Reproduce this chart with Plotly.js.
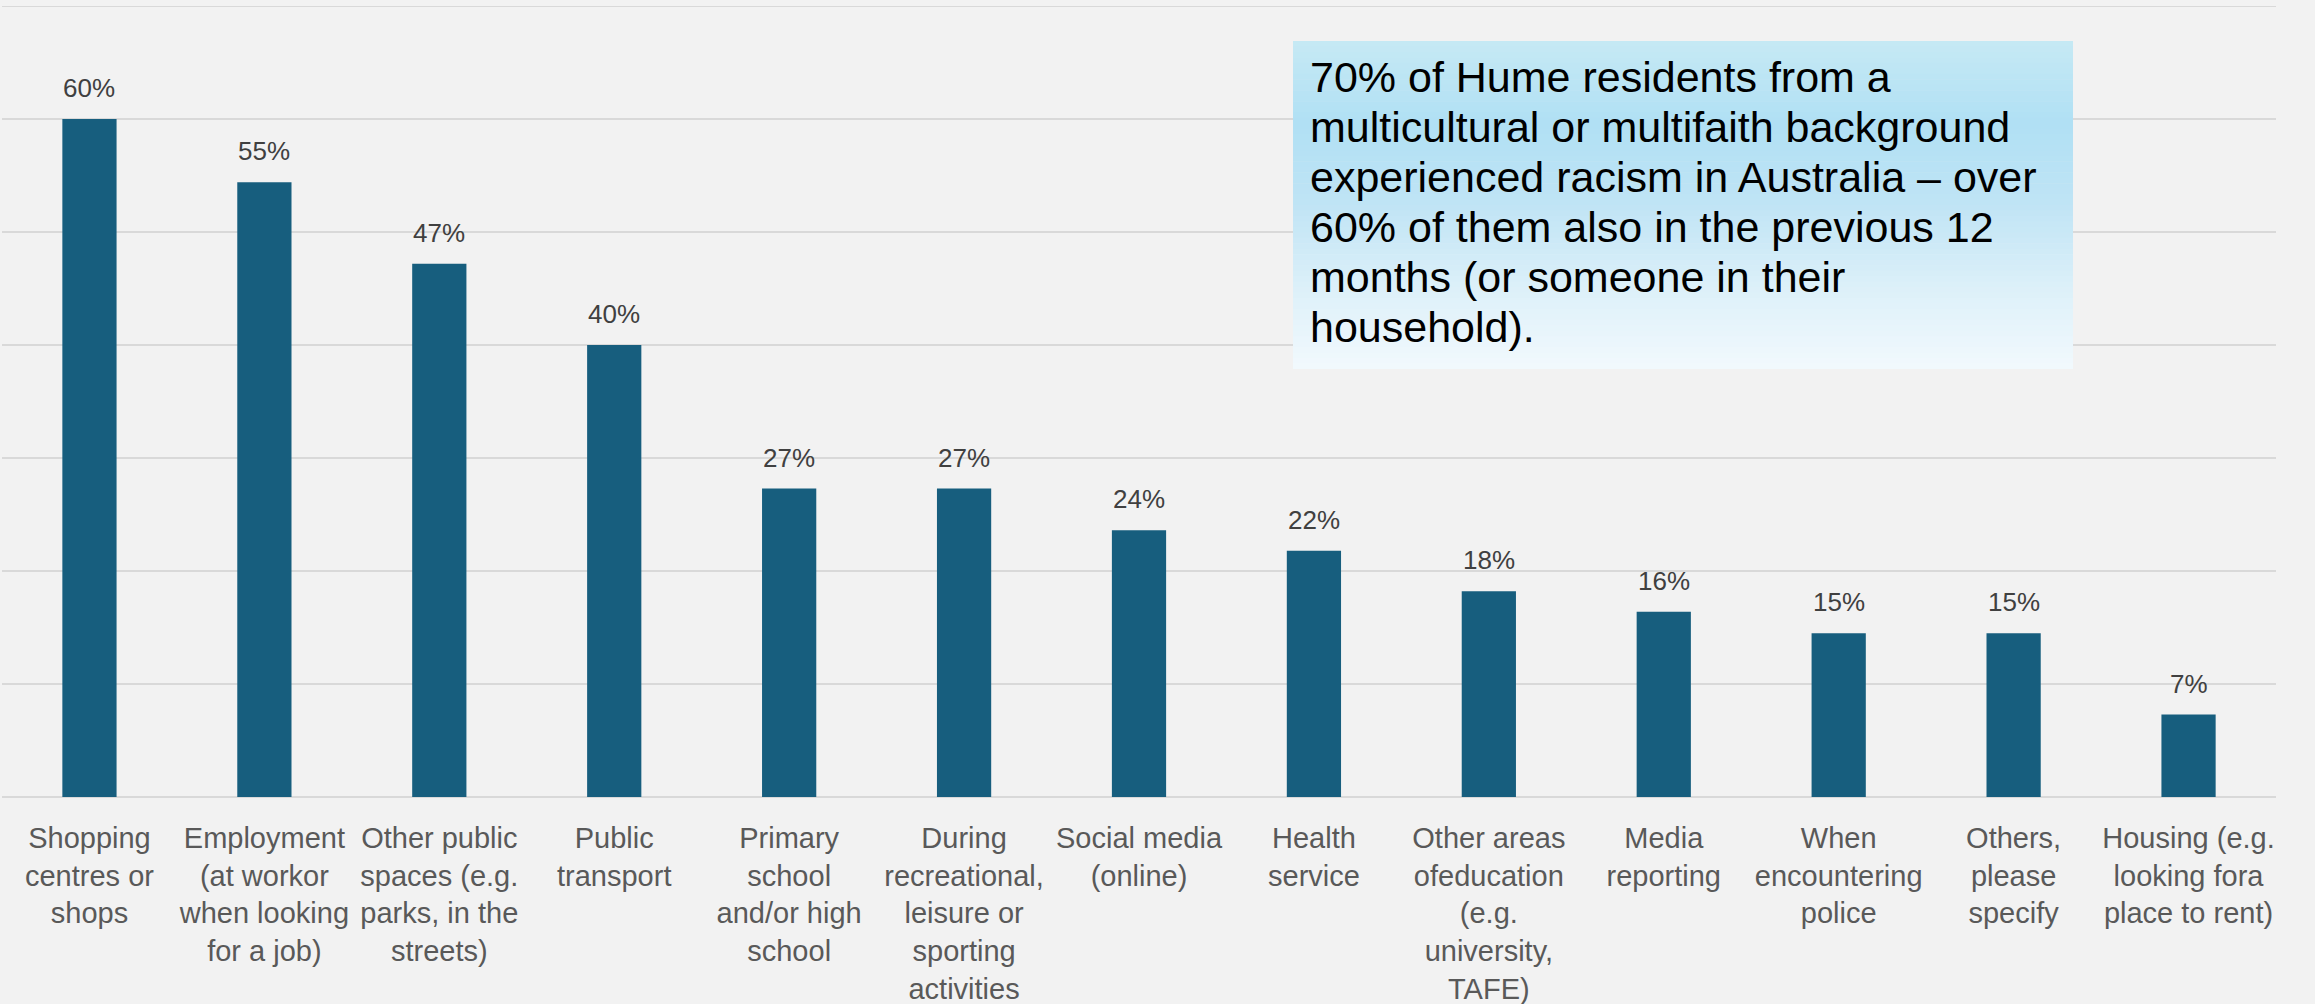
<!DOCTYPE html>
<html>
<head>
<meta charset="utf-8">
<script src="https://cdn.plot.ly/plotly-3.0.1.min.js"></script>
<style>
  html, body { margin: 0; padding: 0; background: #F2F2F2; }
  #chart { width: 2315px; height: 1004px; }
</style>
</head>
<body>
<div id="chart"></div>
<script>
// ---- data ----
const categories = [
  "Shopping<br>centres or<br>shops",
  "Employment<br>(at workor<br>when looking<br>for a job)",
  "Other public<br>spaces (e.g.<br>parks, in the<br>streets)",
  "Public<br>transport",
  "Primary<br>school<br>and/or high<br>school",
  "During<br>recreational,<br>leisure or<br>sporting<br>activities",
  "Social media<br>(online)",
  "Health<br>service",
  "Other areas<br>ofeducation<br>(e.g.<br>university,<br>TAFE)",
  "Media<br>reporting",
  "When<br>encountering<br>police",
  "Others,<br>please<br>specify",
  "Housing (e.g.<br>looking fora<br>place to rent)"
];
// bar heights (labels are rounded)
const values = [60, 54.4, 47.2, 40, 27.3, 27.3, 23.6, 21.8, 18.2, 16.4, 14.5, 14.5, 7.3];
const valueLabels = ["60%", "55%", "47%", "40%", "27%", "27%", "24%", "22%", "18%", "16%", "15%", "15%", "7%"];
const noteLines = [
  "70% of Hume residents from a",
  "multicultural or multifaith background",
  "experienced racism in Australia \u2013 over",
  "60% of them also in the previous 12",
  "months (or someone in their",
  "household)."
];

// ---- geometry helpers (pixel -> paper) ----
const W = 2315, H = 1004;
const M = { l: 2, r: 39, t: 6, b: 207 };
const PW = W - M.l - M.r, PH = H - M.t - M.b;
const px = x => (x - M.l) / PW;
const py = y => (H - M.b - y) / PH;

// ---- gradient box (note) ----
const stops = [
  [0.00, [198, 233, 244]],
  [0.25, [176, 224, 244]],
  [0.50, [192, 228, 245]],
  [0.75, [220, 240, 249]],
  [1.00, [242, 249, 253]]
];
function colAt(t) {
  for (let i = 0; i < stops.length - 1; i++) {
    const [t0, c0] = stops[i], [t1, c1] = stops[i + 1];
    if (t >= t0 && t <= t1) {
      const f = (t - t0) / (t1 - t0);
      const c = c0.map((v, k) => Math.round(v + (c1[k] - v) * f));
      return `rgb(${c[0]},${c[1]},${c[2]})`;
    }
  }
  return 'rgb(242,249,253)';
}
const shapes = [];
// top gridline (at the range edge)
shapes.push({
  type: 'line', xref: 'paper', yref: 'y', x0: 0, x1: 1, y0: 70, y1: 70,
  layer: 'below', line: { color: '#D9D9D9', width: 2 }
});
const boxX0 = 1293, boxX1 = 2073, boxY0 = 41, boxY1 = 369;
const N = 60;
for (let i = 0; i < N; i++) {
  const ya = boxY0 + (boxY1 - boxY0) * i / N;
  const yb = boxY0 + (boxY1 - boxY0) * (i + 1) / N + 0.6;
  shapes.push({
    type: 'rect', xref: 'paper', yref: 'paper', layer: 'above',
    x0: px(boxX0), x1: px(boxX1), y0: py(Math.min(yb, boxY1)), y1: py(ya),
    fillcolor: colAt((i + 0.5) / N), line: { width: 0 }
  });
}

const annotations = [];
// value labels above bars
categories.forEach((c, i) => {
  annotations.push({
    x: c, y: values[i], xref: 'x', yref: 'y',
    text: valueLabels[i], showarrow: false,
    xanchor: 'center', yanchor: 'middle', yshift: 31,
    font: { family: 'Liberation Sans, Arial, sans-serif', size: 26, color: '#404040' }
  });
});
// note text lines
noteLines.forEach((line, k) => {
  annotations.push({
    xref: 'paper', yref: 'paper', x: px(1308), y: py(77 + 50 * k),
    text: line, showarrow: false, xanchor: 'left', yanchor: 'middle',
    font: { family: 'Liberation Sans, Arial, sans-serif', size: 43, color: '#000000' }
  });
});

const trace = {
  type: 'bar', x: categories, y: values,
  marker: { color: '#175E7E', line: { width: 0 } },
  hoverinfo: 'none'
};

const layout = {
  width: W, height: H,
  margin: M,
  paper_bgcolor: '#F2F2F2', plot_bgcolor: '#F2F2F2',
  bargap: 0.69,
  showlegend: false,
  xaxis: {
    type: 'category', showgrid: false, showline: false, zeroline: false,
    ticks: '', tickangle: 0, automargin: false, ticklabelstandoff: 21,
    tickfont: { family: 'Liberation Sans, Arial, sans-serif', size: 29, color: '#595959' }
  },
  yaxis: {
    range: [0, 70], dtick: 10, showticklabels: false, automargin: false,
    showgrid: true, gridcolor: '#D9D9D9', gridwidth: 2,
    zeroline: true, zerolinecolor: '#D9D9D9', zerolinewidth: 2,
    showline: false, ticks: ''
  },
  shapes: shapes,
  annotations: annotations
};

Plotly.newPlot('chart', [trace], layout, { displayModeBar: false, staticPlot: true });
</script>
</body>
</html>
